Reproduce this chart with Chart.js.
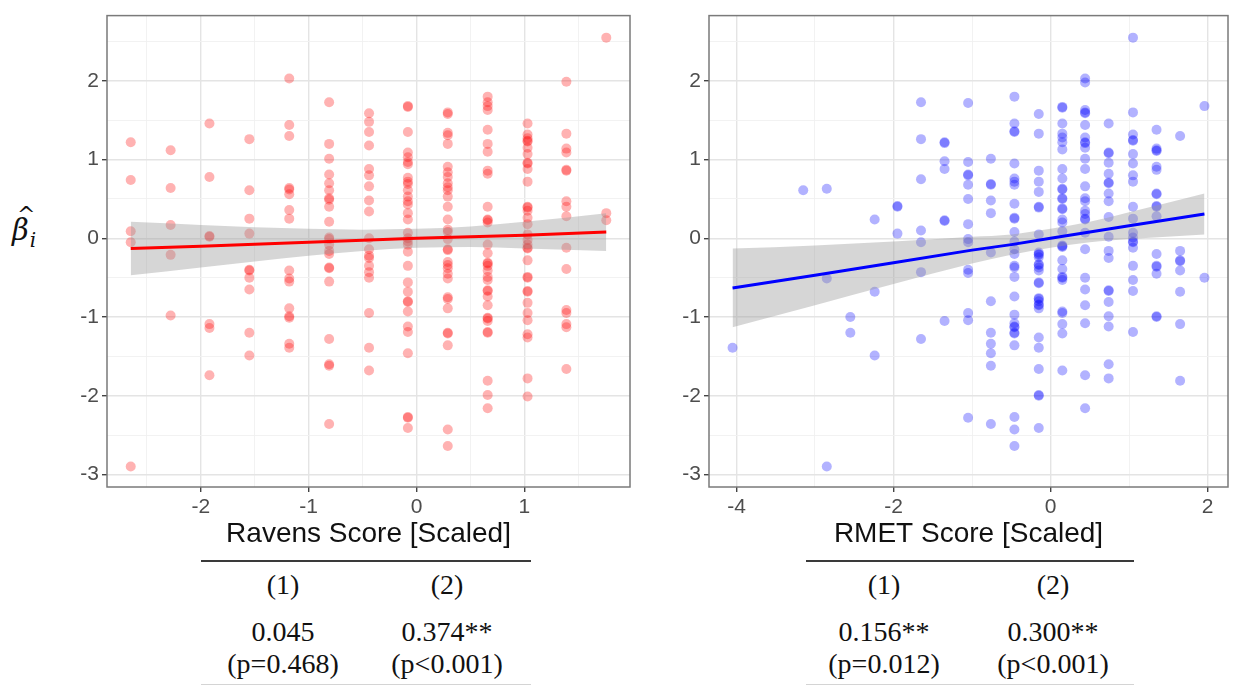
<!DOCTYPE html>
<html>
<head>
<meta charset="utf-8">
<script src="https://cdn.jsdelivr.net/npm/chart.js@4.4.1/dist/chart.umd.min.js"></script>
<style>
body{margin:0;background:#fff;width:1233px;height:687px;position:relative;overflow:hidden;font-family:"Liberation Sans",Arial,sans-serif}
canvas{position:absolute;top:0}
#c1{left:60px}
#c2{left:650px}
.ylab{position:absolute;left:12px;top:212px;font-family:"DejaVu Serif","Liberation Serif",serif;font-size:29px;font-style:italic;color:#111;line-height:36px}
.ylab .b{position:relative;display:inline-block}
.ylab .hat{position:absolute;left:5px;top:-15px;font-style:normal;font-size:22px}
.ylab .i{font-size:20px;position:relative;top:7px;margin-left:1px}
.rule{position:absolute;height:2px;background:#3a3a3a}
.rule.low{background:#d4d4d4;height:1px}
.cell{position:absolute;width:200px;margin-left:-100px;text-align:center;font-family:"Liberation Serif","Times New Roman",serif;font-size:28px;color:#111;line-height:32px}
</style>
</head>
<body>
<canvas id="c1" width="580" height="555"></canvas>
<canvas id="c2" width="583" height="555"></canvas>
<div class="ylab"><span class="b">β<span class="hat">^</span></span><span class="i">i</span></div>
<div id="tables"></div>
<script>
// y axis
var yMajor = [-3, -2, -1, 0, 1, 2];
var yMinor = [-2.5, -1.5, -0.5, 0.5, 1.5, 2.5];

// Ravens panel
var ravensMajor = [-2, -1, 0, 1];
var ravensMinor = [-2.5, -1.5, -0.5, 0.5, 1.5];
var ravensLevels = [-2.65, -2.28, -1.92, -1.55, -1.18, -0.81, -0.44, -0.08, 0.29, 0.66, 1.03, 1.39, 1.76];
var ravensBeta = [
  [1.22, 0.74, 0.09, -0.05, -2.9],
  [1.12, 0.64, 0.17, -0.21, -0.98],
  [1.46, 0.78, 0.03, 0.02, -1.09, -1.14, -1.74],
  [1.26, 0.61, 0.25, 0.06, -0.4, -0.41, -0.5, -0.65, -1.2, -1.49],
  [2.03, 1.44, 1.3, 0.64, 0.62, 0.56, 0.36, 0.25, -0.41, -0.51, -0.55, -0.89, -0.99, -1.01, -1.34, -1.39],
  [1.73, 1.2, 1.01, 0.81, 0.7, 0.61, 0.51, 0.49, 0.4, 0.21, 0.01, -0.01, -0.08, -0.16, -0.2, -0.37, -0.38, -0.55, -1.28, -1.6, -1.62, -2.36],
  [1.59, 1.48, 1.35, 1.18, 0.88, 0.8, 0.66, 0.48, 0.34, 0.0, -0.14, -0.22, -0.25, -0.35, -0.43, -0.5, -0.95, -1.39, -1.68],
  [1.68, 1.67, 1.35, 1.09, 1.03, 0.97, 0.94, 0.77, 0.72, 0.69, 0.61, 0.53, 0.47, 0.43, 0.32, 0.24, 0.07, 0.0, -0.04, -0.08, -0.17, -0.35, -0.56, -0.68, -0.8, -0.81, -0.93, -1.12, -1.19, -1.46, -2.27, -2.28, -2.41],
  [1.6, 1.58, 1.34, 1.31, 1.2, 0.91, 0.84, 0.78, 0.7, 0.65, 0.61, 0.53, 0.4, 0.24, 0.11, 0.08, -0.01, -0.14, -0.15, -0.3, -0.34, -0.38, -0.45, -0.51, -0.75, -0.77, -0.89, -1.2, -1.21, -1.36, -2.43, -2.64],
  [1.8, 1.73, 1.68, 1.63, 1.38, 1.2, 1.1, 0.86, 0.82, 0.4, 0.24, 0.23, 0.2, -0.08, -0.19, -0.31, -0.32, -0.35, -0.41, -0.49, -0.53, -0.66, -0.67, -0.74, -0.85, -1.01, -1.02, -1.05, -1.19, -1.2, -1.81, -1.99, -2.16],
  [1.46, 1.32, 1.27, 1.24, 1.23, 1.15, 1.07, 0.96, 0.95, 0.88, 0.72, 0.4, 0.39, 0.35, 0.26, 0.18, 0.05, -0.02, -0.08, -0.12, -0.13, -0.28, -0.49, -0.5, -0.67, -0.68, -0.82, -0.95, -1.04, -1.22, -1.26, -1.78, -2.01],
  [1.99, 1.33, 1.14, 1.09, 0.87, 0.86, 0.47, 0.4, 0.28, -0.12, -0.39, -0.91, -0.95, -1.09, -1.13, -1.66],
  [2.55, 0.32, 0.23]
];
var ravensFitX = [-2.65, -2, -1, -0.5, 0, 0.5, 1, 1.76];
var ravensFit = [-0.13, -0.1, -0.05, -0.025, 0.0, 0.02, 0.04, 0.08];
var ravensLow = [-0.47, -0.37, -0.22, -0.16, -0.12, -0.11, -0.13, -0.16];
var ravensHigh = [0.21, 0.17, 0.12, 0.11, 0.12, 0.15, 0.21, 0.32];

// RMET panel
var rmetMajor = [-4, -2, 0, 2];
var rmetMinor = [-3, -1, 1];
var rmetLevels = [-4.05, -3.15, -2.85, -2.55, -2.24, -1.95, -1.65, -1.35, -1.05, -0.76, -0.46, -0.15, 0.15, 0.44, 0.74, 1.05, 1.35, 1.65, 1.96];
var rmetBeta = [
  [-1.39],
  [0.61],
  [0.63, -0.51, -2.9],
  [-1.0, -1.2],
  [0.24, -0.68, -1.49],
  [0.4, 0.41, 0.06],
  [1.73, 1.26, 0.75, 0.1, -0.05, -0.43, -1.28],
  [1.21, 1.22, 0.98, 0.88, 0.22, 0.23, -1.05],
  [1.72, 0.97, 0.8, 0.81, 0.68, 0.5, 0.18, -0.01, -0.05, -0.4, -0.44, -0.95, -1.04, -2.28],
  [1.01, 0.68, 0.69, 0.48, 0.32, -0.18, -0.8, -1.2, -1.34, -1.46, -1.62, -2.36],
  [1.8, 1.46, 1.35, 1.36, 0.95, 0.76, 0.72, 0.68, 0.44, 0.25, 0.26, 0.08, -0.04, -0.14, -0.2, -0.35, -0.37, -0.49, -0.74, -0.97, -1.08, -1.12, -1.13, -1.2, -1.21, -1.36, -2.27, -2.43, -2.64],
  [1.58, 1.33, 0.86, 0.72, 0.59, 0.39, 0.4, 0.05, -0.18, -0.2, -0.21, -0.24, -0.33, -0.34, -0.37, -0.41, -0.56, -0.57, -0.76, -0.77, -0.8, -0.84, -0.85, -0.89, -1.26, -1.39, -1.66, -1.99, -2.0, -2.41],
  [1.66, 1.67, 1.46, 1.33, 1.28, 1.22, 1.13, 0.88, 0.76, 0.63, 0.62, 0.5, 0.51, 0.37, 0.38, 0.24, 0.2, 0.09, -0.09, -0.1, -0.11, -0.28, -0.39, -0.49, -0.5, -0.53, -0.93, -0.95, -1.09, -1.21, -1.68],
  [2.03, 1.98, 1.63, 1.6, 1.59, 1.44, 1.28, 1.21, 1.22, 1.15, 1.01, 0.88, 0.66, 0.51, 0.47, 0.35, 0.31, 0.24, 0.25, 0.07, -0.14, -0.5, -0.65, -0.85, -1.08, -1.74, -2.16],
  [1.46, 1.09, 1.08, 0.96, 0.82, 0.7, 0.71, 0.57, 0.47, 0.27, 0.02, -0.16, -0.25, -0.66, -0.67, -0.81, -0.99, -1.12, -1.6, -1.78],
  [2.55, 1.6, 1.32, 1.24, 1.25, 1.07, 0.95, 0.8, 0.72, 0.4, 0.25, 0.07, 0.01, -0.04, -0.05, -0.12, -0.35, -0.53, -0.67, -1.19],
  [1.38, 1.14, 1.11, 1.12, 0.91, 0.87, 0.56, 0.57, 0.4, 0.41, 0.28, -0.2, -0.35, -0.36, -0.45, -0.99, -1.0],
  [1.3, -0.16, -0.28, -0.29, -0.41, -0.68, -1.09, -1.81],
  [1.68, -0.5]
];
var rmetFitX = [-4.05, -3, -2, -1, -0.5, 0, 0.5, 1, 1.96];
var rmetFit = [-0.63, -0.47, -0.31, -0.15, -0.08, 0.0, 0.08, 0.16, 0.31];
var rmetLow = [-1.13, -0.85, -0.58, -0.32, -0.21, -0.12, -0.05, -0.01, 0.05];
var rmetHigh = [-0.13, -0.09, -0.04, 0.02, 0.05, 0.12, 0.21, 0.33, 0.57];

// regression tables
var tableHeads = ['(1)', '(2)'];
var ravensCoef = ['0.045', '0.374**'];
var ravensP = ['(p=0.468)', '(p<0.001)'];
var rmetCoef = ['0.156**', '0.300**'];
var rmetP = ['(p=0.012)', '(p<0.001)'];

var tickFont = {family: '"Liberation Sans", Arial, sans-serif', size: 21};

var panelBorder = {
  id: 'panelBorder',
  afterDraw: function(chart) {
    var a = chart.chartArea, ctx = chart.ctx;
    ctx.save();
    ctx.strokeStyle = '#7a7a7a';
    ctx.lineWidth = 1.5;
    ctx.strokeRect(a.left, a.top, a.right - a.left, a.bottom - a.top);
    ctx.restore();
  }
};

function pts(xs, ys) {
  return xs.map(function(x, i) { return {x: x, y: ys[i]}; });
}

function axis(major, minor, min, max, size, isY, title) {
  var all = major.concat(minor).sort(function(a, b) { return a - b; });
  var isMajor = function(c) { return c.tick && major.indexOf(c.tick.value) >= 0; };
  var ax = {
    type: 'linear',
    min: min,
    max: max,
    afterBuildTicks: function(s) { s.ticks = all.map(function(v) { return {value: v}; }); },
    afterFit: function(s) { if (isY) s.width = size; else s.height = size; },
    border: {display: false},
    grid: {
      color: function(c) { return isMajor(c) ? '#e4e4e4' : '#f1f1f1'; },
      lineWidth: function(c) { return isMajor(c) ? 1.4 : 0.9; },
      tickColor: function(c) { return isMajor(c) ? '#444' : 'rgba(0,0,0,0)'; },
      tickLength: 5,
      drawTicks: true
    },
    ticks: {
      autoSkip: false,
      maxRotation: 0,
      padding: 3,
      color: '#4d4d4d',
      font: tickFont,
      callback: function(v) { return major.indexOf(v) >= 0 ? String(v) : ''; }
    }
  };
  if (title) {
    ax.title = {display: true, text: title, color: '#111', padding: {top: 0, bottom: 4},
      font: {family: '"Liberation Sans", Arial, sans-serif', size: 28}};
  }
  return ax;
}

function makePanel(id, levels, beta, fitX, fit, low, high, rgb, xMajor, xMinor, xMin, xMax, yWidth, padRight, title) {
  var scatter = [];
  levels.forEach(function(x, i) {
    beta[i].forEach(function(y) { scatter.push({x: x, y: y}); });
  });
  new Chart(document.getElementById(id), {
    type: 'scatter',
    data: {
      datasets: [{
        data: scatter,
        backgroundColor: 'rgba(' + rgb + ',0.3)',
        borderWidth: 0,
        pointRadius: 5,
        order: 3
      }, {
        type: 'line',
        data: pts(fitX, high),
        borderWidth: 0,
        pointRadius: 0,
        fill: false,
        cubicInterpolationMode: 'monotone',
        order: 2
      }, {
        type: 'line',
        data: pts(fitX, low),
        borderWidth: 0,
        pointRadius: 0,
        backgroundColor: 'rgba(153,153,153,0.4)',
        fill: '-1',
        cubicInterpolationMode: 'monotone',
        order: 2
      }, {
        type: 'line',
        data: pts(fitX, fit),
        borderColor: 'rgb(' + rgb + ')',
        borderWidth: 3,
        pointRadius: 0,
        fill: false,
        order: 1
      }]
    },
    options: {
      responsive: false,
      animation: false,
      devicePixelRatio: 1,
      layout: {padding: {top: 8, right: padRight, left: 0, bottom: 0}},
      plugins: {legend: {display: false}, tooltip: {enabled: false}},
      scales: {
        x: axis(xMajor, xMinor, xMin, xMax, 68, false, title),
        y: axis(yMajor, yMinor, -3.16, 2.83, yWidth, true, null)
      }
    },
    plugins: [panelBorder]
  });
}

makePanel('c1', ravensLevels, ravensBeta, ravensFitX, ravensFit, ravensLow, ravensHigh, '255,0,0',
  ravensMajor, ravensMinor, -2.87, 1.98, 47, 10, 'Ravens Score [Scaled]');
makePanel('c2', rmetLevels, rmetBeta, rmetFitX, rmetFit, rmetLow, rmetHigh, '0,0,255',
  rmetMajor, rmetMinor, -4.35, 2.26, 59, 2, 'RMET Score [Scaled]');

// tables under each panel
function table(left, right, cols, coef, p) {
  var box = document.getElementById('tables');
  var html = '<div class="rule" style="left:' + left + 'px;width:' + (right - left) + 'px;top:560px"></div>' +
    '<div class="rule low" style="left:' + left + 'px;width:' + (right - left) + 'px;top:684px"></div>';
  cols.forEach(function(cx, i) {
    html += '<div class="cell" style="left:' + cx + 'px;top:569px">' + tableHeads[i] + '</div>';
    html += '<div class="cell" style="left:' + cx + 'px;top:616px">' + coef[i] + '</div>';
    html += '<div class="cell" style="left:' + cx + 'px;top:648px">' + p[i] + '</div>';
  });
  box.innerHTML += html;
}
table(201, 531, [283, 447], ravensCoef, ravensP);
table(806, 1134, [884, 1053], rmetCoef, rmetP);
</script>
</body>
</html>
